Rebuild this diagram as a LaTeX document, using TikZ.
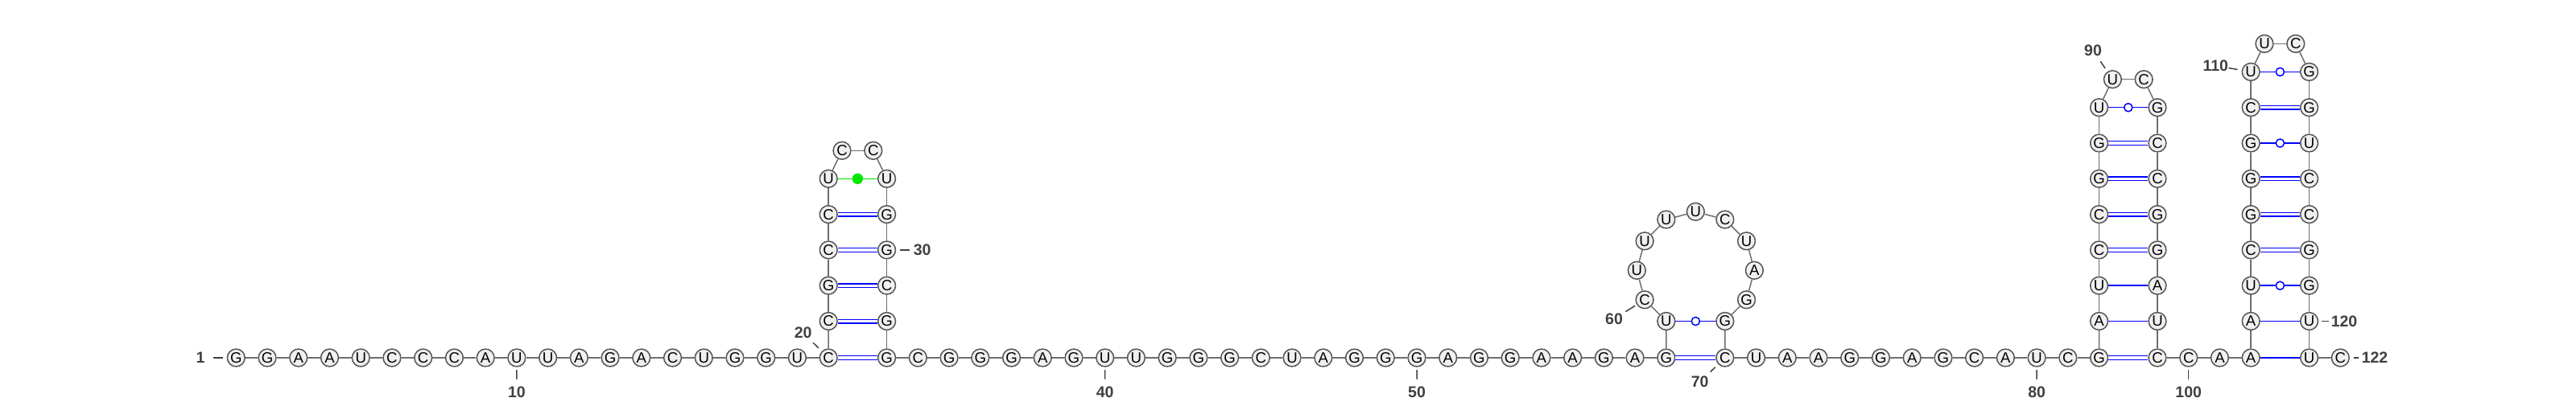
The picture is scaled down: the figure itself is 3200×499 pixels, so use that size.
\documentclass[tikz,border=0pt]{standalone}
\usepackage{fontspec}
\setmainfont{Liberation Sans}
\definecolor{ntfill}{RGB}{240,240,240}
\definecolor{ntdraw}{RGB}{85,85,85}
\definecolor{bbdraw}{RGB}{110,110,110}
\definecolor{numtext}{RGB}{64,64,64}
\definecolor{oddgreen}{RGB}{0,230,0}
\tikzset{nt/.style={circle, draw=ntdraw, fill=ntfill, line width=0.75pt, minimum size=10.9pt, inner sep=0pt, font=\fontsize{9.3}{10}\selectfont},
 bb/.style={draw=bbdraw, line width=0.75pt},
 wc/.style={draw=blue, line width=0.7pt, double=white, double distance=1.6pt},
 wb/.style={draw=blue, line width=0.75pt},
 gu/.style={circle, draw=blue, fill=white, line width=0.75pt, minimum size=5.1pt, inner sep=0pt},
 nn/.style={circle, fill=oddgreen, minimum size=6.7pt, inner sep=0pt},
 nnline/.style={draw=oddgreen, line width=0.8pt},
 num/.style={text=numtext, inner sep=0pt, font=\fontsize{9.75}{10}\selectfont\bfseries},
 tick/.style={draw=numtext, line width=0.75pt}}

\begin{document}
\begin{tikzpicture}[x=0.5pt, y=0.5pt]
  \useasboundingbox (0,0) rectangle (3200,499);
  \foreach \b [count=\i] in {G,G,A,A,U,C,C,C,A,U,U,A,G,A,C,U,G,G,U,C}
    \node[nt] (n\i) at ({293.3+38.73*(\i-1)},54) {\b};
  \foreach \b [count=\i from 21] in {C,G,C,C,U}
    \node[nt] (n\i) at (1029.17,{55.2+44.3*(\i-20)}) {\b};
  \node[nt] (n26) at (1045.97,311.7) {C};
  \node[nt] (n27) at (1084.77,311.7) {C};
  \foreach \b [count=\i from 28] in {U,G,G,C,G}
    \node[nt] (n\i) at (1101.57,{55.2+44.3*(33-\i)}) {\b};
  \foreach \b [count=\i from 33] in {G,C,G,G,G,A,G,U,U,G,G,G,C,U,A,G,G,G,A,G,G,A,A,G,A,G}
    \node[nt] (n\i) at ({1101.57+38.73*(\i-33)},54) {\b};
  \begin{scope}[shift={(2106.32,162.7)}]
    \foreach \b [count=\i from 59] in {U,C,U,U,U,U,C,U,A,G,G}
      \node[nt] (n\i) at ({240-30*(\i-59)}:73) {\b};
  \end{scope}
  \foreach \b [count=\i from 70] in {C,U,A,A,G,G,A,G,C,A,U,C,G}
    \node[nt] (n\i) at ({2142.8+38.73*(\i-70)},54) {\b};
  \foreach \b [count=\i from 83] in {A,U,C,C,G,G,U}
    \node[nt] (n\i) at (2607.56,{55.2+44.3*(\i-82)}) {\b};
  \node[nt] (n90) at (2624.36,400.3) {U};
  \node[nt] (n91) at (2663.16,400.3) {C};
  \foreach \b [count=\i from 92] in {G,C,C,G,G,A,U}
    \node[nt] (n\i) at (2679.96,{55.2+44.3*(99-\i)}) {\b};
  \foreach \b [count=\i from 99] in {C,C,A,A}
    \node[nt] (n\i) at ({2679.96+38.73*(\i-99)},54) {\b};
  \foreach \b [count=\i from 103] in {A,U,C,G,G,G,C,U}
    \node[nt] (n\i) at (2796.15,{55.2+44.3*(\i-102)}) {\b};
  \node[nt] (n111) at (2812.95,444.6) {U};
  \node[nt] (n112) at (2851.75,444.6) {C};
  \foreach \b [count=\i from 113] in {G,G,U,C,C,G,G,U}
    \node[nt] (n\i) at (2868.55,{55.2+44.3*(121-\i)}) {\b};
  \node[nt] (n121) at (2868.55,54) {U};
  \node[nt] (n122) at (2907.28,54) {C};
  \foreach \i in {1,...,121} {
    \pgfmathtruncatemacro\j{\i+1}
    \draw[bb] (n\i) -- (n\j);
  }
  \foreach \i/\j in {20/33,21/32,22/31,23/30,24/29,58/70,82/99,85/96,86/95,87/94,88/93,105/118,106/117,107/116,109/114}
    \draw[wc] (n\i) -- (n\j);
  \foreach \i/\j in {83/98,84/97,102/121,103/120}
    \draw[wb] (n\i) -- (n\j);
  \foreach \i/\j in {59/69,89/92,104/119,108/115,110/113}
    \draw[wb] (n\i) -- (n\j) node[gu, midway] (w\i) {};
  \draw[nnline] (n25) -- (n28) node[nn, midway] (w25) {};
  \node[num] (l1) at (249,54) {1};
  \node[num] (l10) at (641.87,11) {10};
  \node[num] (l20) at (997.7,85) {20};
  \node[num] (l30) at (1145.7,188.1) {30};
  \node[num] (l40) at (1372.68,11) {40};
  \node[num] (l50) at (1759.98,11) {50};
  \node[num] (l60) at (2005,102.3) {60};
  \node[num] (l70) at (2111.7,24) {70};
  \node[num] (l80) at (2530.1,11) {80};
  \node[num] (l90) at (2600,436.3) {90};
  \node[num] (l100) at (2718.69,11) {100};
  \node[num] (l110) at (2752.3,417.3) {110};
  \node[num] (l120) at (2912,99.5) {120};
  \node[num] (l122) at (2950,54) {122};
  \draw[tick, shorten <=4.95pt, shorten >=2.5pt] (l1) -- (n1);
  \foreach \i in {10,40,50,80,100}
    \draw[tick, shorten <=4.5pt, shorten >=1.7pt] (l\i) -- (n\i);
  \draw[tick, shorten <=3.5pt, shorten >=2.9pt] (l20) -- (n20);
  \draw[tick, shorten <=2.45pt, shorten >=2.3pt] (l30) -- (n30);
  \draw[tick, shorten <=1.85pt, shorten >=1.25pt] (l60) -- (n60);
  \draw[tick, shorten <=3.75pt, shorten >=2.6pt] (l70) -- (n70);
  \draw[tick, shorten <=3.8pt, shorten >=2.5pt] (l90) -- (n90);
  \draw[tick, shorten <=0pt, shorten >=2.6pt] (l110) -- (n110);
  \draw[tick, shorten <=1.35pt, shorten >=1.8pt] (l120) -- (n120);
  \draw[tick, shorten <=1.5pt, shorten >=2.6pt] (l122) -- (n122);
\end{tikzpicture}
\end{document}
